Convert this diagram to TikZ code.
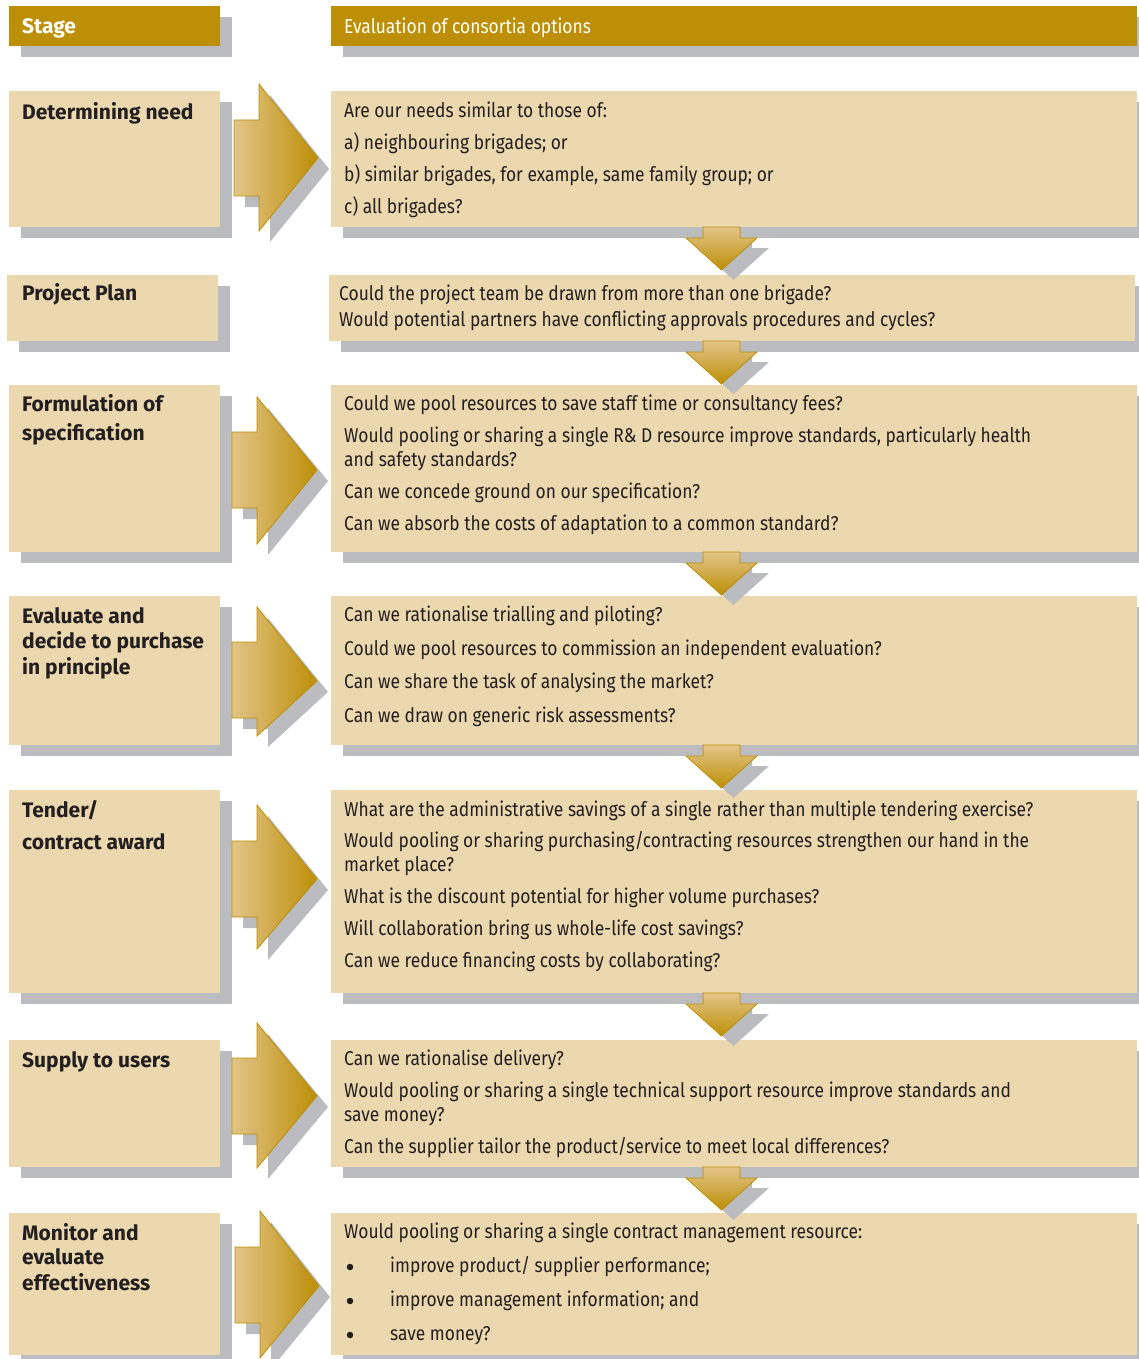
\documentclass[tikz,border=0pt]{standalone}
\usepackage{fontspec}
\setmainfont{Fira Sans}
\newfontfamily\condfont{Fira Sans}[FakeStretch=0.87]
\definecolor{gold}{HTML}{BC8F06}
\definecolor{lightgold}{HTML}{E3C488}
\definecolor{beige}{HTML}{EBD8AE}
\definecolor{shadowgray}{HTML}{BBBCBF}
\definecolor{ink}{HTML}{231F20}
\tikzset{
  panel/.style={inner sep=0pt, outer sep=0pt, anchor=north west},
  qtext/.style={anchor=mid west, inner sep=0pt, text=ink, font=\condfont\fontsize{20}{23}\selectfont},
  stext/.style={anchor=mid west, inner sep=0pt, text=ink, font=\bfseries\fontsize{21}{25}\selectfont},
  htext/.style={anchor=mid west, inner sep=0pt, text=white},
  bulletdot/.style={circle, fill=ink, inner sep=0pt, minimum size=6.5pt},
  arrowline/.style={draw=gold, line width=0.8pt, line join=miter},
}
% name, x1, y1, x2, y2, fill colour
\newcommand\panelbox[6]{%
  \fill[shadowgray] (#2+12,#3+11) rectangle (#4+12,#5+11);
  \node[panel, fill=#6, minimum width={#4-#2}, minimum height={#5-#3}] (#1) at (#2,#3) {};
}
% tailx, basex, tipx, headtop, shafttop, tipy, shaftbot, headbot
\newcommand\blockarrow[8]{%
  \fill[shadowgray, shift={(11,11)}] (#1,#5) -- (#2,#5) -- (#2,#4) -- (#3,#6) -- (#2,#8) -- (#2,#7) -- (#1,#7) -- cycle;
  \path[arrowline, left color=lightgold, right color=gold] (#1,#5) -- (#2,#5) -- (#2,#4) -- (#3,#6) -- (#2,#8) -- (#2,#7) -- (#1,#7) -- cycle;
}
% top y
\newcommand\downblock[1]{%
  \fill[shadowgray, shift={(12,10)}] (703,#1) -- (740,#1) -- (740,#1+11) -- (757,#1+11) -- (721.5,#1+43) -- (686,#1+11) -- (703,#1+11) -- cycle;
  \path[arrowline, top color=lightgold, bottom color=gold] (703,#1) -- (740,#1) -- (740,#1+11) -- (757,#1+11) -- (721.5,#1+43) -- (686,#1+11) -- (703,#1+11) -- cycle;
}
\begin{document}
\begin{tikzpicture}[x=1pt, y=-1pt]
\useasboundingbox (0,0) rectangle (1139,1359);
\clip (0,0) rectangle (1139,1359);

% headers
\panelbox{L0}{9}{6}{220}{46}{gold}
\panelbox{R0}{331}{6}{1137}{46}{gold}
\node[htext, font=\bfseries\fontsize{21}{25}\selectfont] (t0) at (22,31) {Stage};
\node[htext, font=\condfont\fontsize{20}{23}\selectfont] (h0) at (344,31) {Evaluation of consortia options};

% left boxes
\panelbox{L1}{9}{91}{220}{227}{beige}
\panelbox{L2}{7}{275}{218}{341}{beige}
\panelbox{L3}{9}{385}{220}{552}{beige}
\panelbox{L4}{9}{596}{220}{745}{beige}
\panelbox{L5}{9}{790}{220}{993}{beige}
\panelbox{L6}{9}{1040}{220}{1167}{beige}
\panelbox{L7}{9}{1213}{220}{1355}{beige}

% right boxes
\panelbox{R1}{331}{91}{1137}{227}{beige}
\panelbox{R2}{329}{275}{1135}{341}{beige}
\panelbox{R3}{331}{385}{1137}{552}{beige}
\panelbox{R4}{331}{596}{1137}{745}{beige}
\panelbox{R5}{331}{790}{1137}{993}{beige}
\panelbox{R6}{331}{1040}{1137}{1167}{beige}
\panelbox{R7}{331}{1213}{1137}{1355}{beige}

% right-pointing block arrows
\blockarrow{234}{259}{318}{84}{120}{158}{196}{231}
\blockarrow{232}{257}{317}{397}{432}{470}{508}{544}
\blockarrow{232}{257}{317}{607}{642}{681}{718}{736}
\blockarrow{232}{257}{317}{805}{841}{879}{917}{949}
\blockarrow{232}{257}{317}{1023}{1058}{1096}{1134}{1168}
\blockarrow{235}{260}{319}{1211}{1247}{1286}{1323}{1358}

% downward block arrows
\downblock{227}
\downblock{341}
\downblock{552}
\downblock{745}
\downblock{993}
\downblock{1167}

% stage texts
\node[stext] (s1) at (22,117) {Determining need};
\node[stext] (s2) at (22,298) {Project Plan};
\node[stext] (s3a) at (22,409) {Formulation of};
\node[stext] (s3b) at (22,438) {specification};
\node[stext] (s4a) at (22,621) {Evaluate and};
\node[stext] (s4b) at (22,646) {decide to purchase};
\node[stext] (s4c) at (22,672) {in principle};
\node[stext] (s5a) at (22,815) {Tender/};
\node[stext] (s5b) at (22,847) {contract award};
\node[stext] (s6) at (22,1065) {Supply to users};
\node[stext] (s7a) at (22,1238) {Monitor and};
\node[stext] (s7b) at (22,1262) {evaluate};
\node[stext] (s7c) at (22,1288) {effectiveness};

% question texts
\node[qtext] (q1a) at (344,115) {Are our needs similar to those of:};
\node[qtext] (q1b) at (344,147) {a) neighbouring brigades; or};
\node[qtext] (q1c) at (344,179) {b) similar brigades, for example, same family group; or};
\node[qtext] (q1d) at (344,211) {c) all brigades?};

\node[qtext] (q2a) at (339,298) {Could the project team be drawn from more than one brigade?};
\node[qtext] (q2b) at (339,324) {Would potential partners have conflicting approvals procedures and cycles?};

\node[qtext] (q3a) at (344,408) {Could we pool resources to save staff time or consultancy fees?};
\node[qtext] (q3b) at (344,440) {Would pooling or sharing a single R\& D resource improve standards, particularly health};
\node[qtext] (q3c) at (344,464) {and safety standards?};
\node[qtext] (q3d) at (344,496) {Can we concede ground on our specification?};
\node[qtext] (q3e) at (344,528) {Can we absorb the costs of adaptation to a common standard?};

\node[qtext] (q4a) at (344,619) {Can we rationalise trialling and piloting?};
\node[qtext] (q4b) at (344,653) {Could we pool resources to commission an independent evaluation?};
\node[qtext] (q4c) at (344,686) {Can we share the task of analysing the market?};
\node[qtext] (q4d) at (344,720) {Can we draw on generic risk assessments?};

\node[qtext] (q5a) at (344,814) {What are the administrative savings of a single rather than multiple tendering exercise?};
\node[qtext] (q5b) at (344,845) {Would pooling or sharing purchasing/contracting resources strengthen our hand in the};
\node[qtext] (q5c) at (344,869) {market place?};
\node[qtext] (q5d) at (344,901) {What is the discount potential for higher volume purchases?};
\node[qtext] (q5e) at (344,933) {Will collaboration bring us whole-life cost savings?};
\node[qtext] (q5f) at (344,965) {Can we reduce financing costs by collaborating?};

\node[qtext] (q6a) at (344,1063) {Can we rationalise delivery?};
\node[qtext] (q6b) at (344,1095) {Would pooling or sharing a single technical support resource improve standards and};
\node[qtext] (q6c) at (344,1119) {save money?};
\node[qtext] (q6d) at (344,1151) {Can the supplier tailor the product/service to meet local differences?};

\node[qtext] (q7a) at (344,1236) {Would pooling or sharing a single contract management resource:};
\node[bulletdot] (b7a) at (350,1267) {};
\node[qtext] (q7b) at (390,1270) {improve product/ supplier performance;};
\node[bulletdot] (b7b) at (350,1301) {};
\node[qtext] (q7c) at (390,1304) {improve management information; and};
\node[bulletdot] (b7c) at (350,1335) {};
\node[qtext] (q7d) at (390,1338) {save money?};
\end{tikzpicture}
\end{document}
